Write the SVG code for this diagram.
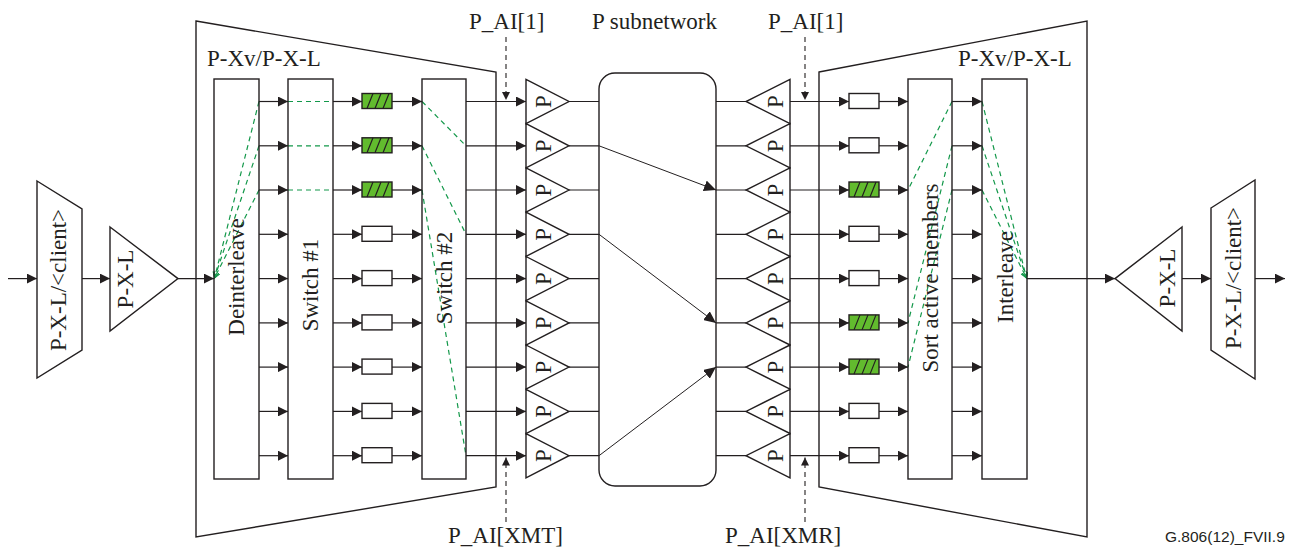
<svg xmlns="http://www.w3.org/2000/svg" xmlns:xlink="http://www.w3.org/1999/xlink" width="1295" height="548" viewBox="0 0 1295 548">
<style>
.s{fill:#fff;stroke:#231f20;stroke-width:1.4}
.n{fill:none;stroke:#231f20;stroke-width:1.4}
.ln{fill:none;stroke:#231f20;stroke-width:1.2}
.ar{fill:none;stroke:#231f20;stroke-width:1.2;marker-end:url(#ah)}
.da{fill:none;stroke:#231f20;stroke-width:1.1;stroke-dasharray:5,4;marker-end:url(#dah)}
.sa{fill:none;stroke:#231f20;stroke-width:1;marker-end:url(#bah)}
.gd{fill:none;stroke:#13984a;stroke-width:1.2;stroke-dasharray:5,4}
.gda{fill:none;stroke:#13984a;stroke-width:1.2;stroke-dasharray:5,4;marker-end:url(#gah)}
.gbox{fill:#62bb2e;stroke:#231f20;stroke-width:1.4}
.hatch{fill:none;stroke:#231f20;stroke-width:1.2}
.wbox{fill:#fff;stroke:#231f20;stroke-width:1.4}
.t{font-family:"Liberation Serif","Times New Roman",serif;font-size:23px;fill:#231f20}
.tm{font-family:"Liberation Serif","Times New Roman",serif;font-size:23px;fill:#231f20;text-anchor:middle}
.id{font-family:"Liberation Sans",Arial,sans-serif;font-size:15.5px;fill:#231f20}
</style>
<defs>
<marker id="ah" markerUnits="userSpaceOnUse" markerWidth="10" markerHeight="10" refX="10" refY="5" orient="auto"><path d="M0,0 L10,5 L0,10 z" fill="#231f20"/></marker>
<marker id="dah" markerUnits="userSpaceOnUse" markerWidth="9" markerHeight="8" refX="8" refY="4" orient="auto"><path d="M0,0 L8,4 L0,8 z" fill="#231f20"/></marker>
<marker id="bah" markerUnits="userSpaceOnUse" markerWidth="13" markerHeight="11" refX="12" refY="5.5" orient="auto"><path d="M0,0 L12,5.5 L0,11 z" fill="#231f20"/></marker>
<marker id="gah" markerUnits="userSpaceOnUse" markerWidth="8" markerHeight="8" refX="6" refY="3" orient="auto"><path d="M0,0 L6,3 L0,6" fill="none" stroke="#13984a" stroke-width="1"/></marker>
<g id="gb"><rect x="0" y="-8" width="30" height="15" class="gbox"/><path d="M5,7 L11,-8 M13,7 L19,-8 M21,7 L27,-8" class="hatch"/></g>
<rect id="wb" x="0" y="-8" width="30" height="15" class="wbox"/>
</defs>

<g id="connectors">
<path class="ar" d="M8,278.6 H37"/>
<path class="ar" d="M82,278.6 H110"/>
<path class="ar" d="M178,278.6 H214"/>
<path class="ar" d="M1027,278.6 H1115"/>
<path class="ar" d="M1182,278.6 H1211"/>
<path class="ar" d="M1255,278.6 H1285"/>
<path class="ar" d="M259,101.5 H288"/><path class="ar" d="M333,101.5 H362"/><path class="ar" d="M392,101.5 H422"/><path class="ar" d="M466,101.5 H526"/>
<path class="ar" d="M259,145.8 H288"/><path class="ar" d="M333,145.8 H362"/><path class="ar" d="M392,145.8 H422"/><path class="ar" d="M466,145.8 H526"/>
<path class="ar" d="M259,190 H288"/><path class="ar" d="M333,190 H362"/><path class="ar" d="M392,190 H422"/><path class="ar" d="M466,190 H526"/>
<path class="ar" d="M259,234.3 H288"/><path class="ar" d="M333,234.3 H362"/><path class="ar" d="M392,234.3 H422"/><path class="ar" d="M466,234.3 H526"/>
<path class="ar" d="M259,278.6 H288"/><path class="ar" d="M333,278.6 H362"/><path class="ar" d="M392,278.6 H422"/><path class="ar" d="M466,278.6 H526"/>
<path class="ar" d="M259,322.9 H288"/><path class="ar" d="M333,322.9 H362"/><path class="ar" d="M392,322.9 H422"/><path class="ar" d="M466,322.9 H526"/>
<path class="ar" d="M259,367.1 H288"/><path class="ar" d="M333,367.1 H362"/><path class="ar" d="M392,367.1 H422"/><path class="ar" d="M466,367.1 H526"/>
<path class="ar" d="M259,411.4 H288"/><path class="ar" d="M333,411.4 H362"/><path class="ar" d="M392,411.4 H422"/><path class="ar" d="M466,411.4 H526"/>
<path class="ar" d="M259,455.7 H288"/><path class="ar" d="M333,455.7 H362"/><path class="ar" d="M392,455.7 H422"/><path class="ar" d="M466,455.7 H526"/>
<path class="ln" d="M569,101.5 H599 M569,145.8 H599 M569,190 H599 M569,234.3 H599 M569,278.6 H599 M569,322.9 H599 M569,367.1 H599 M569,411.4 H599 M569,455.7 H599"/>
<path class="ln" d="M716,101.5 H746 M716,145.8 H746 M716,190 H746 M716,234.3 H746 M716,278.6 H746 M716,322.9 H746 M716,367.1 H746 M716,411.4 H746 M716,455.7 H746"/>
<path class="sa" d="M599,145.8 L716,190"/>
<path class="sa" d="M599,234.3 L716,322.9"/>
<path class="sa" d="M599,455.7 L716,367.1"/>
<path class="ar" d="M790,101.5 H849"/><path class="ar" d="M879,101.5 H908"/><path class="ar" d="M952,101.5 H982"/>
<path class="ar" d="M790,145.8 H849"/><path class="ar" d="M879,145.8 H908"/><path class="ar" d="M952,145.8 H982"/>
<path class="ar" d="M790,190 H849"/><path class="ar" d="M879,190 H908"/><path class="ar" d="M952,190 H982"/>
<path class="ar" d="M790,234.3 H849"/><path class="ar" d="M879,234.3 H908"/><path class="ar" d="M952,234.3 H982"/>
<path class="ar" d="M790,278.6 H849"/><path class="ar" d="M879,278.6 H908"/><path class="ar" d="M952,278.6 H982"/>
<path class="ar" d="M790,322.9 H849"/><path class="ar" d="M879,322.9 H908"/><path class="ar" d="M952,322.9 H982"/>
<path class="ar" d="M790,367.1 H849"/><path class="ar" d="M879,367.1 H908"/><path class="ar" d="M952,367.1 H982"/>
<path class="ar" d="M790,411.4 H849"/><path class="ar" d="M879,411.4 H908"/><path class="ar" d="M952,411.4 H982"/>
<path class="ar" d="M790,455.7 H849"/><path class="ar" d="M879,455.7 H908"/><path class="ar" d="M952,455.7 H982"/>
<path class="da" d="M506,37 V100"/>
<path class="da" d="M805,37 V100"/>
<path class="da" d="M506,522 V457.5"/>
<path class="da" d="M805,522 V457.5"/>
<path class="gda" d="M259,101.5 L214.5,278"/>
<path class="gda" d="M259,145.8 L214.5,278"/>
<path class="gda" d="M259,190 L214.5,278"/>
<path class="gd" d="M288,101.5 H333 M288,145.8 H333 M288,190 H333"/>
<path class="gd" d="M422,101.5 L466,145.8"/>
<path class="gd" d="M422,145.8 L466,234.3"/>
<path class="gd" d="M422,190 L466,455.7"/>
<path class="gd" d="M952,101.5 L908,190"/>
<path class="gd" d="M952,145.8 L908,322.9"/>
<path class="gd" d="M952,190 L908,367.1"/>
<path class="gda" d="M982,101.5 L1026.5,278"/>
<path class="gda" d="M982,145.8 L1026.5,278"/>
<path class="gda" d="M982,190 L1026.5,278"/>
</g>

<g id="client-in">
<polygon class="s" points="37,181 82,209 82,350 37,378"/>
<text class="tm" transform="translate(66,280) rotate(-90)">P-X-L/&lt;client&gt;</text>
</g>
<g id="pxl-in">
<polygon class="s" points="110,227 178,278.6 110,331"/>
<text class="tm" transform="translate(133,279) rotate(-90)">P-X-L</text>
</g>

<g id="pxv-source">
<polygon class="n" points="196,21 496,72 496,487 196,537"/>
<text class="t" x="207" y="66">P-Xv/P-X-L</text>
</g>
<g id="deinterleave">
<rect class="n" x="214" y="79" width="45" height="400"/>
<text class="tm" transform="translate(244,277) rotate(-90)">Deinterleave</text>
</g>
<g id="switch1">
<rect class="n" x="288" y="79" width="45" height="400"/>
<text class="tm" transform="translate(318,285) rotate(-90)">Switch #1</text>
</g>
<g id="switch2">
<rect class="n" x="422" y="79" width="44" height="400"/>
<text class="tm" transform="translate(452,278) rotate(-90)">Switch #2</text>
</g>
<g id="left-buffers">
<use xlink:href="#gb" href="#gb" x="362" y="101.5"/>
<use xlink:href="#gb" href="#gb" x="362" y="145.8"/>
<use xlink:href="#gb" href="#gb" x="362" y="190"/>
<use xlink:href="#wb" href="#wb" x="362" y="234.3"/>
<use xlink:href="#wb" href="#wb" x="362" y="278.6"/>
<use xlink:href="#wb" href="#wb" x="362" y="322.9"/>
<use xlink:href="#wb" href="#wb" x="362" y="367.1"/>
<use xlink:href="#wb" href="#wb" x="362" y="411.4"/>
<use xlink:href="#wb" href="#wb" x="362" y="455.7"/>
</g>

<g id="p-source">
<polygon class="s" points="526,79.4 569,101.5 526,123.6"/><text class="tm" transform="translate(551,101.5) rotate(-90)">P</text>
<polygon class="s" points="526,123.7 569,145.8 526,167.9"/><text class="tm" transform="translate(551,145.8) rotate(-90)">P</text>
<polygon class="s" points="526,167.9 569,190 526,212.1"/><text class="tm" transform="translate(551,190) rotate(-90)">P</text>
<polygon class="s" points="526,212.2 569,234.3 526,256.4"/><text class="tm" transform="translate(551,234.3) rotate(-90)">P</text>
<polygon class="s" points="526,256.5 569,278.6 526,300.7"/><text class="tm" transform="translate(551,278.6) rotate(-90)">P</text>
<polygon class="s" points="526,300.8 569,322.9 526,345"/><text class="tm" transform="translate(551,322.9) rotate(-90)">P</text>
<polygon class="s" points="526,345 569,367.1 526,389.2"/><text class="tm" transform="translate(551,367.1) rotate(-90)">P</text>
<polygon class="s" points="526,389.3 569,411.4 526,433.5"/><text class="tm" transform="translate(551,411.4) rotate(-90)">P</text>
<polygon class="s" points="526,433.6 569,455.7 526,477.8"/><text class="tm" transform="translate(551,455.7) rotate(-90)">P</text>
</g>

<g id="p-subnetwork">
<rect class="n" x="599" y="73" width="117" height="413" rx="16" ry="16"/>
<text class="t" x="592" y="29">P subnetwork</text>
</g>

<g id="p-sink">
<polygon class="s" points="790,79.4 746,101.5 790,123.6"/><text class="tm" transform="translate(783,101.5) rotate(-90)">P</text>
<polygon class="s" points="790,123.7 746,145.8 790,167.9"/><text class="tm" transform="translate(783,145.8) rotate(-90)">P</text>
<polygon class="s" points="790,167.9 746,190 790,212.1"/><text class="tm" transform="translate(783,190) rotate(-90)">P</text>
<polygon class="s" points="790,212.2 746,234.3 790,256.4"/><text class="tm" transform="translate(783,234.3) rotate(-90)">P</text>
<polygon class="s" points="790,256.5 746,278.6 790,300.7"/><text class="tm" transform="translate(783,278.6) rotate(-90)">P</text>
<polygon class="s" points="790,300.8 746,322.9 790,345"/><text class="tm" transform="translate(783,322.9) rotate(-90)">P</text>
<polygon class="s" points="790,345 746,367.1 790,389.2"/><text class="tm" transform="translate(783,367.1) rotate(-90)">P</text>
<polygon class="s" points="790,389.3 746,411.4 790,433.5"/><text class="tm" transform="translate(783,411.4) rotate(-90)">P</text>
<polygon class="s" points="790,433.6 746,455.7 790,477.8"/><text class="tm" transform="translate(783,455.7) rotate(-90)">P</text>
</g>

<g id="pai-labels">
<text class="t" x="469" y="29">P_AI[1]</text>
<text class="t" x="768" y="29">P_AI[1]</text>
<text class="t" x="448" y="543">P_AI[XMT]</text>
<text class="t" x="725" y="543">P_AI[XMR]</text>
</g>

<g id="pxv-sink">
<polygon class="n" points="819,72 1087,21 1087,537 819,487"/>
<text class="t" x="958" y="66">P-Xv/P-X-L</text>
</g>
<g id="right-buffers">
<use xlink:href="#wb" href="#wb" x="849" y="101.5"/>
<use xlink:href="#wb" href="#wb" x="849" y="145.8"/>
<use xlink:href="#gb" href="#gb" x="849" y="190"/>
<use xlink:href="#wb" href="#wb" x="849" y="234.3"/>
<use xlink:href="#wb" href="#wb" x="849" y="278.6"/>
<use xlink:href="#gb" href="#gb" x="849" y="322.9"/>
<use xlink:href="#gb" href="#gb" x="849" y="367.1"/>
<use xlink:href="#wb" href="#wb" x="849" y="411.4"/>
<use xlink:href="#wb" href="#wb" x="849" y="455.7"/>
</g>
<g id="sort">
<rect class="n" x="908" y="79" width="44" height="400"/>
<text class="tm" transform="translate(938,278) rotate(-90)">Sort active members</text>
</g>
<g id="interleave">
<rect class="n" x="982" y="79" width="45" height="400"/>
<text class="tm" transform="translate(1013,277) rotate(-90)">Interleave</text>
</g>

<g id="pxl-out">
<polygon class="s" points="1182,227 1115,278.6 1182,331"/>
<text class="tm" transform="translate(1175,278) rotate(-90)">P-X-L</text>
</g>
<g id="client-out">
<polygon class="s" points="1211,208 1255,180 1255,379 1211,350"/>
<text class="tm" transform="translate(1241,278) rotate(-90)">P-X-L/&lt;client&gt;</text>
</g>

<text class="id" x="1165" y="542">G.806(12)_FVII.9</text>
</svg>
